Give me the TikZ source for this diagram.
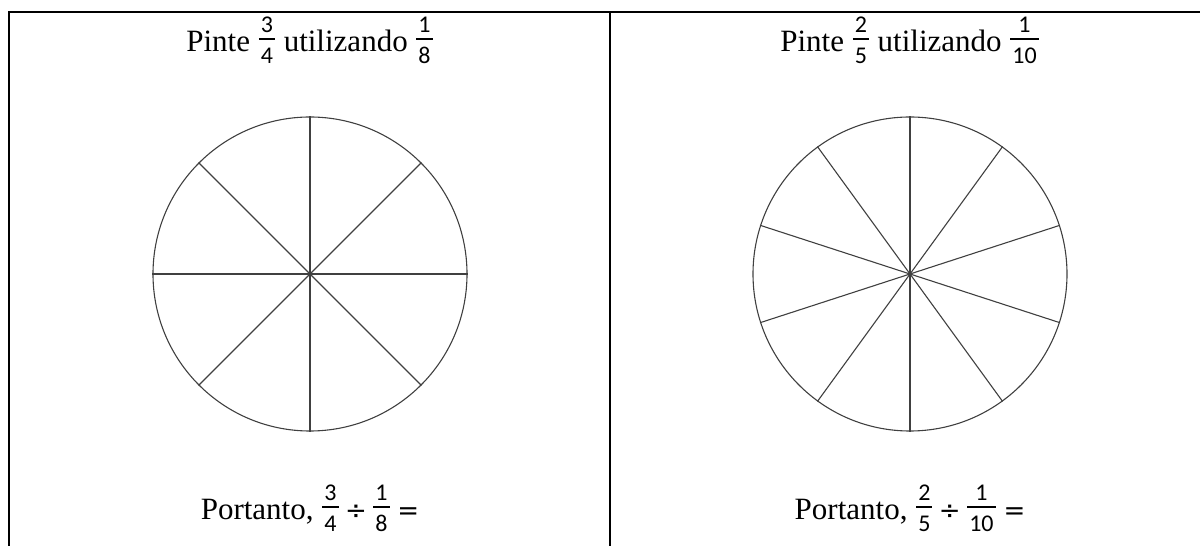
\documentclass[tikz,border=0pt]{standalone}
\usepackage{fontspec}
\setmainfont{Liberation Serif}
\newfontfamily\fracfont{Carlito}
\newfontfamily\opfont{DejaVu Sans}
\definecolor{pieline}{HTML}{404040}
% stacked fraction with sans digits
\newcommand\fr[2]{\hbox{\fracfont\fontsize{24}{28}\selectfont\setbox0\hbox{#1}\setbox2\hbox{#2}%
\dimen0=\wd0 \ifdim\wd2>\dimen0 \dimen0=\wd2\fi\advance\dimen0 4pt
\kern1pt\rlap{\raise19.5pt\hbox to\dimen0{\hss\box0\hss}}%
\rlap{\raise11.8pt\hbox{\vrule width\dimen0 height2.6pt depth0pt}}%
\lower12pt\hbox to\dimen0{\hss\box2\hss}\kern1pt}}
\newcommand\op[1]{\hbox{\opfont\fontsize{26}{30}\selectfont#1}}

\begin{document}
\begin{tikzpicture}[x=1pt,y=1pt,font=\fontsize{31}{37}\selectfont,
  rule/.style={line width=2pt},
  pie/.style={draw=pieline,line width=1.1pt,circle,inner sep=0pt,minimum size=314pt},
  spoke/.style={pieline,line width=1.1pt}]
\path[use as bounding box,clip] (0,0) rectangle (1200,546);
\draw[rule] (9,-10)--(9,534)--(1220,534);\draw[rule] (610,-10)--(610,534);
\node[anchor=base] (titleA) at (310,494){Pinte \fr{3}{4} utilizando \fr{1}{8}};
\node[anchor=base] (titleB) at (910,494){Pinte \fr{2}{5} utilizando \fr{1}{10}};
\node[pie] (pieA) at (310,272){};\node[pie] (pieB) at (910,272){};
\foreach \a in {0,45,...,315}{\draw[spoke] (pieA.center)--(pieA.\a);}
\foreach \a in {18,54,...,342}{\draw[spoke] (pieB.center)--(pieB.\a);}
\node[anchor=base] (endA) at (310,26){Portanto, $\fr{3}{4}\mathbin{\op{÷}}\fr{1}{8}\mathrel{\op{=}}$};
\node[anchor=base] (endB) at (910,26){Portanto, $\fr{2}{5}\mathbin{\op{÷}}\fr{1}{10}\mathrel{\op{=}}$};
\end{tikzpicture}
\end{document}
